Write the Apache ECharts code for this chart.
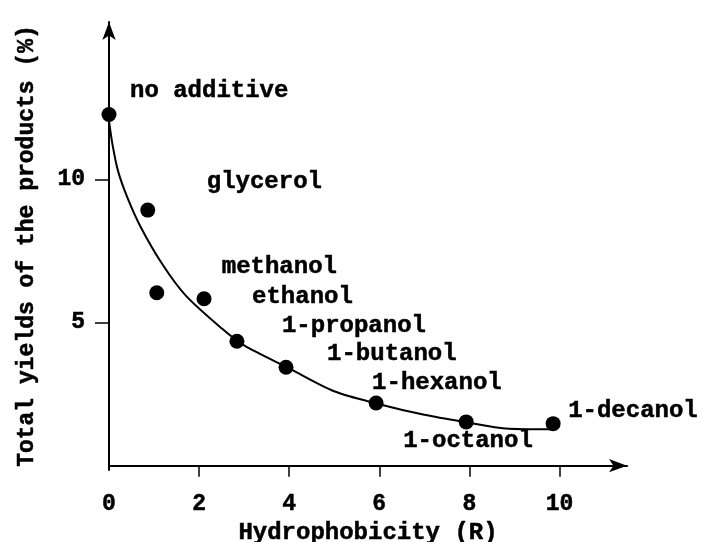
<!DOCTYPE html>
<html>
<head>
<meta charset="utf-8">
<script src="https://cdn.jsdelivr.net/npm/echarts@6/dist/echarts.min.js"></script>
<style>html,body{margin:0;padding:0;background:#fff}#c{width:702px;height:542px}</style>
</head>
<body>
<div id="c"></div>
<script>
// Data
var additives = ['no additive','glycerol','methanol','ethanol','1-propanol','1-butanol','1-hexanol','1-octanol','1-decanol'];
var hydrophobicity = [0, 0.86, 1.06, 2.11, 2.84, 3.93, 5.93, 7.93, 9.86];
var totalYield = [12.27, 8.93, 6.04, 5.83, 4.35, 3.44, 2.19, 1.53, 1.47];
// fitted curve
var curveX = [0, 0.08, 0.2, 0.4, 0.7, 1.2, 1.7, 2.5, 3.0, 4.0, 5.0, 6.0, 7.0, 8.0, 8.8, 9.8];
var curveY = [12.05, 11.2, 10.3, 9.4, 8.35, 7.0, 5.95, 4.8, 4.2, 3.4, 2.6, 2.15, 1.78, 1.5, 1.3, 1.27];
var xTickLabels = [0, 2, 4, 6, 8, 10];
var xTicks = [2, 4, 6, 8, 10];
var yTickLabels = [5, 10];

// label placement (style, not data)
var labelOffsets = [[21,-24],[59,-28],[65,-26],[48,-2],[45,-15],[41,-13],[-4,-20],[-63,19],[15,-13]];

var FONT = '"Liberation Mono", "DejaVu Sans Mono", monospace';
var TXT = {fontFamily: FONT, fontWeight: 'bold', color: '#000', textBorderColor: '#000', textBorderWidth: 0.5};
function txt(size, extra) {
  var o = Object.assign({}, TXT, {fontSize: size});
  return Object.assign(o, extra || {});
}
var chart = echarts.init(document.getElementById('c'), null, {renderer: 'canvas'});

var scatterData = hydrophobicity.map(function (x, i) {
  return {
    name: additives[i],
    value: [x, totalYield[i]],
    label: {offset: labelOffsets[i]}
  };
});
var curveData = curveX.map(function (x, i) { return [x, curveY[i]]; });

chart.setOption({
  animation: false,
  backgroundColor: '#fff',
  grid: {left: 109, right: 75, top: 22, bottom: 72, containLabel: false, outerBoundsMode: 'none'},
  xAxis: {
    type: 'value', min: 0, max: 11.5,
    name: 'Hydrophobicity (R)', nameLocation: 'middle', nameGap: 49,
    nameTextStyle: txt(24),
    axisLine: {show: true, lineStyle: {color: '#000', width: 2}, symbol: ['none', 'arrow'], symbolSize: [10, 18], symbolOffset: [0, 0]},
    axisTick: {show: true, inside: false, length: 11, lineStyle: {color: '#000', width: 1.5}, customValues: xTicks},
    axisLabel: txt(23, {margin: 23, customValues: xTickLabels}),
    splitLine: {show: false}
  },
  yAxis: {
    type: 'value', min: -0.15, max: 15.5,
    name: 'Total yields of the products (%)', nameLocation: 'middle', nameGap: 70, nameRotate: 90,
    nameTextStyle: txt(23),
    axisLine: {show: true, onZero: false, lineStyle: {color: '#000', width: 2}, symbol: ['none', 'arrow'], symbolSize: [10, 18], symbolOffset: [0, 0]},
    axisTick: {show: true, length: 14, lineStyle: {color: '#000', width: 1.5}, customValues: yTickLabels},
    axisLabel: txt(23, {margin: 24, customValues: yTickLabels}),
    splitLine: {show: false}
  },
  series: [
    {
      type: 'line', data: curveData, smooth: 0.3, showSymbol: false,
      lineStyle: {color: '#000', width: 2}, z: 2
    },
    {
      type: 'scatter', data: scatterData, symbolSize: 15,
      itemStyle: {color: '#000', opacity: 1}, z: 3,
      label: txt(24, {show: true, position: 'inside', align: 'left', verticalAlign: 'middle', formatter: '{b}'})
    }
  ]
});
</script>
</body>
</html>
